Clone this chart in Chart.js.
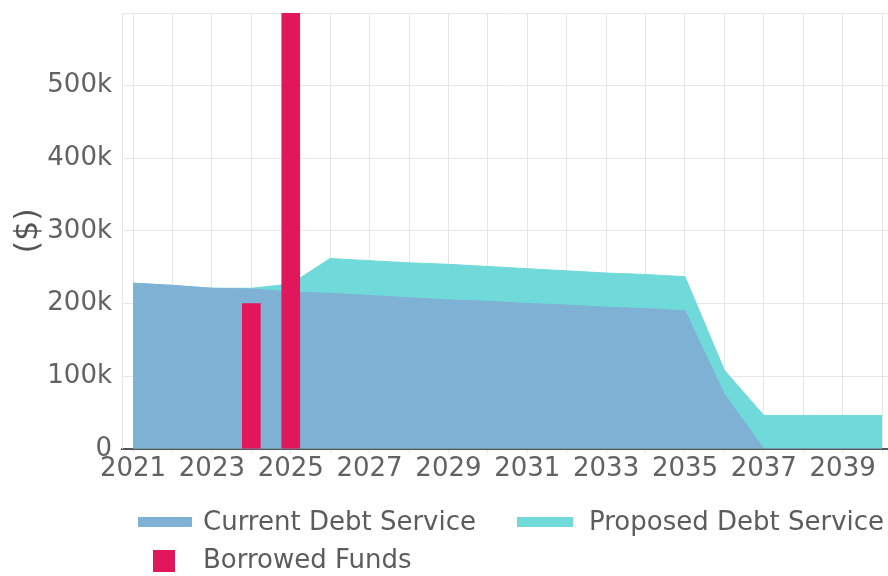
<!DOCTYPE html>
<html>
<head>
<meta charset="utf-8">
<title>Debt Service</title>
<script src="https://cdn.jsdelivr.net/npm/chart.js@4.4.1/dist/chart.umd.min.js"></script>
<style>
  html, body { margin: 0; padding: 0; background: #fff; }
  #wrap { width: 888px; height: 576px; }
</style>
</head>
<body>
<div id="wrap"><canvas id="debtChart"></canvas></div>
<script>
// years on the x axis
const years = [2021, 2022, 2023, 2024, 2025, 2026, 2027, 2028, 2029, 2030,
  2031, 2032, 2033, 2034, 2035, 2036, 2037, 2038, 2039, 2040];

// current debt service ($)
const currentDebt = [228000, 225000, 221000, 220000, 216000, 214000, 211000, 208000, 205000, 203000,
  200000, 198000, 195000, 193000, 190000, 75000, 0, 0, 0, 0];

// proposed debt service ($)
const proposedDebt = [228000, 225000, 221000, 221000, 227000, 262000, 259000, 256000, 254000, 251000,
  248000, 245000, 242000, 240000, 237000, 108000, 46000, 46000, 46000, 46000];

// borrowed funds ($)
const borrowedFunds = [null, null, null, 200000, 600000, null, null, null, null, null,
  null, null, null, null, null, null, null, null, null, null];

const toPoints = (vals) => years.map((yr, i) => ({ x: yr, y: vals[i] }));

const blue = "#7fb1d5";
const teal = "#70d9d9";
const red = "#e2165b";

Chart.defaults.font.family = "'DejaVu Sans', Verdana, sans-serif";
Chart.defaults.font.size = 26;
Chart.defaults.color = "#626262";

// legend drawn by hand: two columns, wide strips for areas, square for bars
const legendBoxes = {
  id: "legendBoxes",
  afterDraw(chart) {
    const ctx = chart.ctx;
    const ds = chart.data.datasets;
    const items = [
      { i: 0, x: 138, y: 517, w: 54, h: 10, tx: 203, ty: 523 },
      { i: 1, x: 517, y: 517, w: 56, h: 10, tx: 589, ty: 523 },
      { i: 2, x: 153, y: 550, w: 22, h: 22, tx: 203, ty: 561 },
    ];
    ctx.save();
    ctx.font = "26px 'DejaVu Sans', Verdana, sans-serif";
    ctx.textBaseline = "middle";
    items.forEach((it) => {
      ctx.fillStyle = ds[it.i].backgroundColor;
      ctx.fillRect(it.x, it.y, it.w, it.h);
      ctx.fillStyle = "#5c5c5c";
      ctx.fillText(ds[it.i].label, it.tx, it.ty);
    });
    ctx.restore();
  },
};

const config = {
  type: "bar",
  data: {
    datasets: [
      {
        type: "line",
        label: "Current Debt Service",
        data: toPoints(currentDebt),
        backgroundColor: blue,
        borderColor: blue,
        borderWidth: 1,
        pointRadius: 0,
        fill: "origin",
        order: 1,
      },
      {
        type: "line",
        label: "Proposed Debt Service",
        data: toPoints(proposedDebt),
        backgroundColor: teal,
        borderColor: teal,
        borderWidth: 1,
        pointRadius: 0,
        fill: "origin",
        order: 2,
      },
      {
        type: "bar",
        label: "Borrowed Funds",
        data: toPoints(borrowedFunds),
        backgroundColor: red,
        barThickness: 18,
        order: 0,
      },
    ],
  },
  options: {
    responsive: true,
    maintainAspectRatio: false,
    animation: false,
    layout: { padding: { left: 1, right: 0, top: 0, bottom: 90 } },
    plugins: {
      legend: { display: false },
      tooltip: { enabled: false },
    },
    scales: {
      x: {
        type: "linear",
        min: 2020.72,
        max: 2040.15,
        offset: false,
        afterBuildTicks: (axis) => {
          axis.ticks = years.map((v) => ({ value: v }));
        },
        ticks: {
          autoSkip: false,
          maxRotation: 0,
          minRotation: 0,
          padding: 1,
          callback: (v) => (v % 2 === 1 ? String(v) : ""),
        },
        grid: { color: "#e6e6e6", tickLength: 4, offset: false },
        border: { color: "#555", width: 2 },
      },
      y: {
        min: 0,
        max: 600000,
        // keep the axis at a fixed width and the plot close to the top
        afterFit: (scale) => {
          scale.width = 121;
          scale.paddingTop = 13;
        },
        ticks: {
          stepSize: 100000,
          padding: 10,
          callback: (v) => (v === 0 ? "0" : v >= 600000 ? "" : v / 1000 + "k"),
        },
        grid: { color: "#e6e6e6", drawTicks: false },
        border: { color: "#e6e6e6" },
        title: {
          display: true,
          text: "($)",
          color: "#555",
          font: { size: 32 },
          padding: { top: 8, bottom: 0 },
        },
      },
    },
  },
  plugins: [legendBoxes],
};

new Chart(document.getElementById("debtChart"), config);
</script>
</body>
</html>
